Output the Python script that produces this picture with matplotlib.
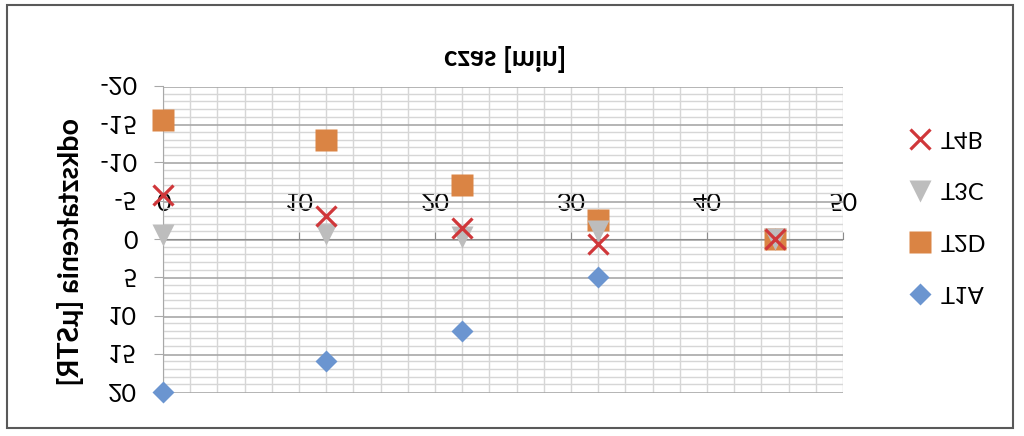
import numpy as np
import matplotlib
matplotlib.use('Agg')
import matplotlib.pyplot as plt
from matplotlib.ticker import MultipleLocator
from matplotlib.patches import Rectangle

# time [min] and strain readings per gauge
czas = [0, 12, 22, 32, 45]
t1a = [20, 16, 12, 5, 0]
t2d = [-15.5, -13, -7, -2.5, 0]
t3c = [-0.5, -0.6, -0.2, -1, 0]
t4b = [-5.7, -3, -1.5, 0.6, 0]
x_ticks = [0, 10, 20, 30, 40, 50]
y_ticks = [-20, -15, -10, -5, 0, 5, 10, 15, 20]

plt.rcParams['font.family'] = ['Lato', 'DejaVu Sans']
plt.rcParams['axes.unicode_minus'] = False

fig = plt.figure(figsize=(10.24, 4.36), dpi=100)
ax = fig.add_axes([0.1592, 0.1995, 0.664, 0.702])

ax.plot(czas, t1a, ls='none', marker='D', ms=11.5, color='#6b95d0', mec='none', label='T1A', zorder=3, clip_on=False)
ax.plot(czas, t2d, ls='none', marker='s', ms=16, color='#da8444', mec='none', label='T2D', zorder=4, clip_on=False)
ax.plot(czas, t3c, ls='none', marker='^', ms=16, color='#bdbdbd', mec='none', label='T3C', zorder=5, clip_on=False)
ax.plot(czas, t4b, ls='none', marker='x', ms=15, mew=2.3, color='#d0373a', label='T4B', zorder=6, clip_on=False)

ax.set_xlim(0, 50)
ax.set_ylim(-20, 20)
ax.set_xticks(x_ticks)
ax.set_yticks(y_ticks)
ax.xaxis.set_minor_locator(MultipleLocator(2))
ax.yaxis.set_minor_locator(MultipleLocator(1))

ax.grid(which='minor', color='#d6d6d6', lw=1.0, zorder=0)
ax.grid(which='major', axis='x', color='#d6d6d6', lw=1.0, zorder=0)
ax.grid(which='major', axis='y', color='#a8a8a8', lw=1.2, zorder=0)
ax.set_axisbelow(True)

for s in ['top', 'right']:
    ax.spines[s].set_visible(False)
ax.spines['bottom'].set_position(('data', 0))
ax.spines['bottom'].set_color('#8c8c8c')
ax.spines['left'].set_color('#a8a8a8')

ax.tick_params(axis='x', which='major', direction='out', length=5, color='#8c8c8c',
               labelsize=18, pad=15)
ax.tick_params(axis='y', which='major', direction='out', length=6.5, color='#a8a8a8',
               labelsize=18, pad=12)
ax.tick_params(which='minor', length=0)

fig.text(0.493, 0.1376, 'czas [min]', ha='center', va='center', fontsize=20, fontweight='bold')
fig.text(0.069, 0.583, 'odkształcenia [μSTR]', ha='center', va='center', rotation=90,
         fontsize=20.5, fontweight='bold')

fig.legend(loc='center left', bbox_to_anchor=(0.875, 0.495), frameon=False, fontsize=17,
           labelspacing=1.3, handlelength=1.0, handletextpad=0.4, borderpad=0)

fig.patches.append(Rectangle((0.0068, 0.0115), 0.982, 0.970, transform=fig.transFigure,
                             fill=False, ec='#595959', lw=1.5))

# the reference chart is shown upside down, so flip the rendered picture
fig.canvas.draw()
img = np.asarray(fig.canvas.buffer_rgba())
plt.imsave('out.png', img[::-1])
